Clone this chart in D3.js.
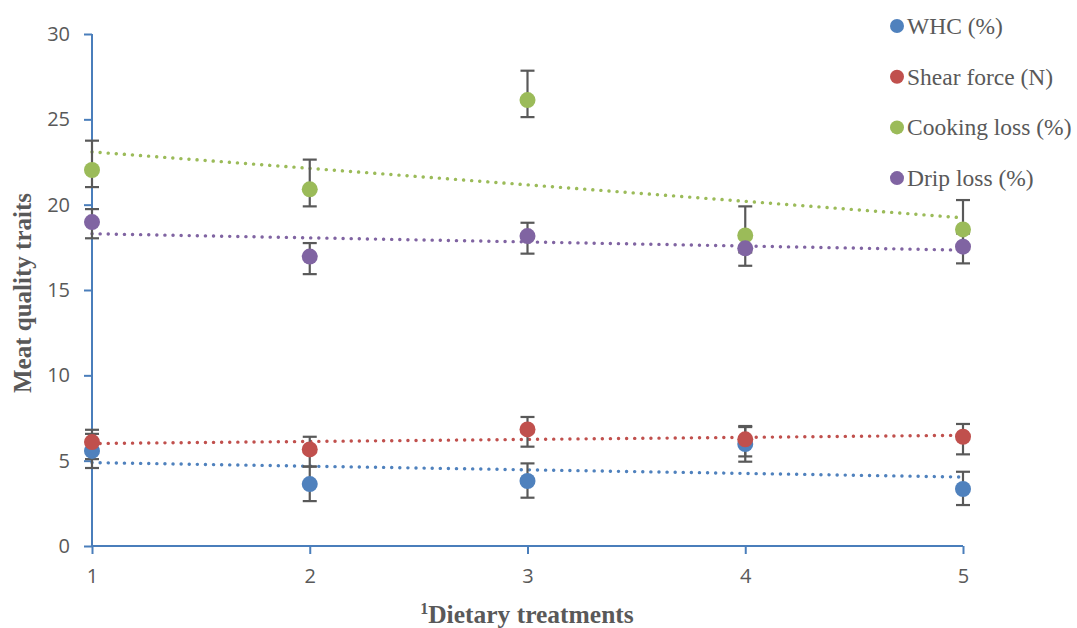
<!DOCTYPE html>
<html>
<head>
<meta charset="utf-8">
<script src="https://cdn.jsdelivr.net/npm/d3@7.9.0/dist/d3.min.js"></script>
<style>
  body { margin: 0; background: #fff; }
  svg { display: block; }
</style>
</head>
<body>
<svg width="1077" height="628"></svg>
<script>
// treatments on the x axis
const treatments = [1, 2, 3, 4, 5];
const yTicks = [0, 5, 10, 15, 20, 25, 30];

const seriesNames = ['WHC (%)', 'Shear force (N)', 'Cooking loss (%)', 'Drip loss (%)'];
const colors = ['#4f81bd', '#c0504d', '#9bbb59', '#8064a2'];

// means
const whc = [5.57, 3.63, 3.81, 5.97, 3.34];
const shear = [6.09, 5.66, 6.83, 6.25, 6.4];
const cooking = [22.03, 20.9, 26.13, 18.2, 18.55];
const drip = [18.98, 16.96, 18.16, 17.44, 17.54];

// error bar lengths (up / down)
const whcUp = [1.0, 1.02, 1.03, 1.0, 1.01];
const whcDown = [1.0, 1.0, 0.98, 1.03, 0.94];
const shearUp = [0.72, 0.74, 0.73, 0.78, 0.75];
const shearDown = [1.0, 1.0, 1.01, 1.0, 1.03];
const cookingUp = [1.72, 1.74, 1.72, 1.7, 1.72];
const cookingDown = [1.0, 1.0, 1.0, 1.0, 1.0];
const dripUp = [0.76, 0.79, 0.78, 0.77, 0.77];
const dripDown = [0.95, 1.03, 1.03, 1.02, 0.98];

const values = [whc, shear, cooking, drip];
const ups = [whcUp, shearUp, cookingUp, dripUp];
const downs = [whcDown, shearDown, cookingDown, dripDown];

const svg = d3.select('svg');
const axisColor = '#4a7ebb';
const textColor = '#595959';

let x = d3.scaleLinear().domain([1, 5]).range([92, 963]);
let y = d3.scaleLinear().domain([0, 30]).range([546, 34]);

// axes
let yAxis = svg.append('g')
  .attr('transform', 'translate(92,0)')
  .call(d3.axisLeft(y).tickValues(yTicks).tickSize(8).tickPadding(14));
let xAxis = svg.append('g')
  .attr('transform', 'translate(0,546)')
  .call(d3.axisBottom(x).tickValues(treatments).tickSize(8).tickFormat(d3.format('d')).tickPadding(15));

[yAxis, xAxis].forEach(ax => {
  ax.select('.domain').attr('stroke', axisColor).attr('stroke-width', 2);
  ax.selectAll('.tick line').attr('stroke', axisColor).attr('stroke-width', 2);
  ax.selectAll('.tick text')
    .attr('fill', textColor)
    .style('font-family', '"Open Sans", "Liberation Sans", sans-serif')
    .style('font-size', '20px');
});
// domain without outer ticks
yAxis.select('.domain').attr('d', `M0,${y(30)}V${y(0)}`);
xAxis.select('.domain').attr('d', `M${x(1)},0H${x(5)}`);

// linear trend lines (least squares)
function fit(vals) {
  let mx = d3.mean(treatments), my = d3.mean(vals);
  let num = 0, den = 0;
  treatments.forEach((t, i) => { num += (t - mx) * (vals[i] - my); den += (t - mx) ** 2; });
  let b = num / den;
  return t => my + b * (t - mx);
}

values.forEach((vals, s) => {
  let f = fit(vals);
  svg.append('line')
    .attr('x1', x(1)).attr('y1', y(f(1)))
    .attr('x2', x(5)).attr('y2', y(f(5)))
    .attr('stroke', colors[s])
    .attr('stroke-width', 3.4)
    .attr('stroke-linecap', 'round')
    .attr('stroke-dasharray', '0.1 8');
});

// error bars
values.forEach((vals, s) => {
  let g = svg.append('g').attr('stroke', '#595959').attr('stroke-width', 2.2);
  vals.forEach((v, i) => {
    let cx = x(treatments[i]);
    let top = y(v + ups[s][i]), bot = y(v - downs[s][i]);
    g.append('line').attr('x1', cx).attr('x2', cx).attr('y1', top).attr('y2', bot);
    g.append('line').attr('x1', cx - 7).attr('x2', cx + 7).attr('y1', top).attr('y2', top);
    g.append('line').attr('x1', cx - 7).attr('x2', cx + 7).attr('y1', bot).attr('y2', bot);
  });
});

// points
values.forEach((vals, s) => {
  svg.append('g').selectAll('circle')
    .data(vals)
    .join('circle')
    .attr('cx', (d, i) => x(treatments[i]))
    .attr('cy', d => y(d))
    .attr('r', 8)
    .attr('fill', colors[s]);
});

// legend
const legend = svg.append('g');
seriesNames.forEach((name, i) => {
  let ly = 26 + i * 50.7;
  legend.append('circle').attr('cx', 897).attr('cy', ly).attr('r', 7).attr('fill', colors[i]);
  legend.append('text')
    .attr('x', 907).attr('y', ly + 8)
    .attr('fill', textColor)
    .style('font-family', '"Liberation Serif", serif')
    .style('font-size', '23.5px')
    .text(name);
});

// axis titles
svg.append('text')
  .attr('transform', 'translate(31,293) rotate(-90)')
  .attr('text-anchor', 'middle')
  .attr('fill', textColor)
  .style('font-family', '"Liberation Serif", serif')
  .style('font-weight', 'bold')
  .style('font-size', '25px')
  .text('Meat quality traits');

let xt = svg.append('text')
  .attr('x', 527).attr('y', 623)
  .attr('text-anchor', 'middle')
  .attr('fill', textColor)
  .style('font-family', '"Liberation Serif", serif')
  .style('font-weight', 'bold')
  .style('font-size', '25.5px');
xt.append('tspan').attr('dy', '-9').style('font-size', '16px').text('1');
xt.append('tspan').attr('dy', '9').text('Dietary treatments');
</script>
</body>
</html>
